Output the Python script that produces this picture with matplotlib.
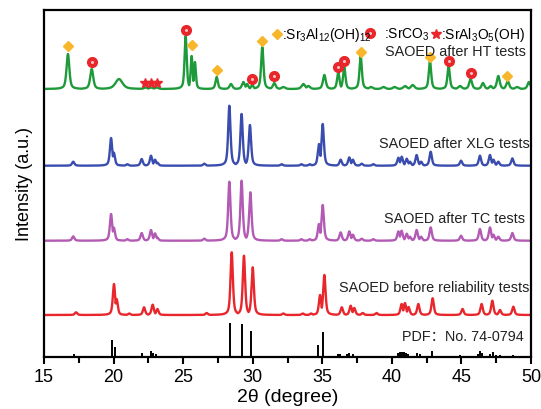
import numpy as np
import matplotlib
matplotlib.use("Agg")
import matplotlib.pyplot as plt
from matplotlib.ticker import MultipleLocator

plt.rcParams['font.family'] = ['Liberation Sans', 'Noto Sans CJK SC', 'DejaVu Sans']
plt.rcParams['mathtext.fontset'] = 'custom'
plt.rcParams['mathtext.rm'] = 'Liberation Sans'
plt.rcParams['mathtext.it'] = 'Liberation Sans'

# ---------------- data (peak tables) ----------------
# SAOED after HT tests (green)
ht_pos = [16.72, 18.43, 20.39, 22.3, 22.7, 23.1, 25.18, 25.61, 25.85, 27.41, 28.44, 29.33,
          29.6, 29.97, 30.69, 31.55, 32.2, 33.64, 34.0, 35.15, 36.15, 36.58, 37.76, 38.5,
          39.4, 40.2, 40.95, 41.5, 42.74, 44.08, 44.9, 45.66, 46.55, 47.1, 47.65, 48.33,
          49.0, 49.85]
ht_int = [35, 20, 10, 1.5, 1.5, 1.5, 53, 33, 27, 12, 5, 7,
          5, 4, 42, 6, 2, 5, 3, 14, 17, 22, 33, 2,
          2, 2, 3, 4, 28, 23, 3, 10, 6, 3, 13, 8,
          2, 7]
ht_wid = [0.12, 0.13, 0.3, 0.15, 0.15, 0.15, 0.09, 0.08, 0.08, 0.1, 0.12, 0.12,
          0.1, 0.1, 0.1, 0.12, 0.15, 0.15, 0.15, 0.12, 0.1, 0.1, 0.1, 0.15,
          0.15, 0.15, 0.15, 0.15, 0.1, 0.1, 0.15, 0.12, 0.12, 0.12, 0.12, 0.12,
          0.15, 0.12]

# SAOED after XLG tests (blue)
xlg_pos = [17.1, 19.82, 20.02, 20.99, 22.02, 22.69, 22.98, 23.15, 26.52, 28.32, 29.2, 29.8,
           32.08, 33.5, 34.1, 34.76, 35.03, 36.32, 36.94, 37.2, 37.83, 38.67, 40.47, 40.71,
           41.07, 41.3, 41.78, 42.1, 42.79, 44.97, 46.33, 47.05, 47.3, 47.65, 48.66]
xlg_int = [4, 27.7, 13, 1.5, 6.7, 10, 6, 3, 2, 60, 51.7, 40.7,
           1.5, 1.5, 1.5, 21.7, 41.7, 6, 8.3, 6, 2, 1.5, 8, 9,
           7, 4, 10.7, 4, 14, 5, 10, 10.7, 6, 4, 7.3]

# SAOED after TC tests (purple)
tc_pos = [17.1, 19.82, 20.02, 20.99, 22.02, 22.69, 22.98, 23.15, 26.52, 28.32, 29.2, 29.83,
          32.08, 33.5, 34.1, 34.76, 35.03, 36.32, 36.94, 37.2, 37.83, 38.67, 40.47, 40.7,
          41.07, 41.3, 41.78, 42.1, 42.79, 44.97, 46.33, 47.05, 47.3, 47.65, 48.66]
tc_int = [4.3, 26.7, 13, 1.5, 7.7, 10.7, 7.3, 3, 2, 59, 60, 48.4,
          1.5, 1.5, 1.5, 16.7, 35.7, 8.3, 9.3, 6, 2, 1.5, 9.3, 10,
          7, 4, 10.7, 4, 13.3, 5, 11.7, 13.3, 6, 4, 7.7]

# SAOED before reliability tests (red)
bef_pos = [17.3, 20.03, 20.22, 21.13, 22.19, 22.81, 23.15, 26.69, 28.49, 29.37, 30.0,
           32.2, 33.6, 34.2, 34.84, 35.15, 36.4, 37.04, 37.3, 37.9, 38.9, 40.7, 40.94,
           41.2, 41.9, 42.93, 45.08, 46.45, 47.22, 47.77, 48.73]
bef_int = [2.7, 31, 16, 1.5, 7.7, 10.3, 6, 2, 62.7, 59.3, 47.7,
           1.5, 1.5, 1.5, 20, 40, 7.7, 9.3, 7, 2, 2, 11, 12,
           8, 11, 16.7, 6, 11, 14.3, 5, 8.3]

# PDF No. 74-0794 reference sticks
pdf_pos = [17.18, 19.62, 19.91, 20.1, 21.06, 22.07, 22.69, 22.86, 23.05, 26.57, 28.37, 29.25,
           29.88, 34.72, 35.08, 36.15, 36.3, 36.75, 36.95, 37.2, 37.8, 38.2, 38.7, 39.2,
           39.7, 40.45, 40.6, 40.75, 40.9, 41.05, 41.16, 41.78, 42.0, 42.86, 44.9, 46.2,
           46.33, 46.5, 47.05, 47.27, 47.5, 47.8, 48.7, 48.8]
pdf_int = [2.7, 1.5, 17.3, 10, 1, 4.3, 6.3, 4, 3, 1.5, 34, 32.7,
           26, 12.5, 25, 3, 3, 3, 4, 3, 1, 1, 1, 1,
           1, 4, 5, 5, 5, 4, 3, 4, 3, 6.5, 2, 3,
           6, 4, 3, 5, 2, 2, 2, 1.5]

# phase markers on HT pattern (2theta, level)
dia_pos = [16.72, 25.61, 27.41, 30.69, 37.76, 42.74, 48.30]
dia_lvl = [311, 312, 287, 316, 305, 300, 281]
cir_pos = [18.43, 25.18, 29.97, 31.55, 36.15, 36.58, 44.08, 45.70]
cir_lvl = [295, 327, 278, 281, 290, 296, 296, 284]
star_pos = [22.26, 22.69, 23.12]
star_lvl = [274, 274, 274]

labels = ['SAOED after HT tests', 'SAOED after XLG tests', 'SAOED after TC tests',
          'SAOED before reliability tests', 'PDF\uff1aNo. 74-0794']

# ---------------- styling ----------------
offsets = [268, 191.3, 116.3, 42]
colors = ['#1F9A3A', '#3A4DAE', '#B25AB4', '#E8262B']
ORANGE = '#F8B62A'
RED = '#E8262B'

fig = plt.figure(figsize=(5.41, 4.10), dpi=100)
ax = fig.add_axes([44 / 541, 52 / 410, 487 / 541, 347 / 410])

x = np.linspace(15, 50, 7001)


def profile(pos, inten, wid):
    y = np.zeros_like(x)
    for p, h, w in zip(pos, inten, wid):
        d = (x - p) / w
        pk = h * (0.6 / (1 + d ** 2) + 0.4 * np.exp(-np.log(2) * d ** 2))
        y = np.maximum(y, pk)
    return y


series = [(ht_pos, ht_int, ht_wid),
          (xlg_pos, xlg_int, [0.1] * len(xlg_pos)),
          (tc_pos, tc_int, [0.1] * len(tc_pos)),
          (bef_pos, bef_int, [0.1] * len(bef_pos))]

for (pos, inten, wid), off, c in zip(series, offsets, colors):
    ax.plot(x, off + profile(pos, inten, wid), color=c, lw=1.7, solid_joinstyle='round')

ax.vlines(pdf_pos, 0, pdf_int, color='black', lw=1.4)

# markers
ax.plot(dia_pos, dia_lvl, linestyle='none', marker='D', ms=5.5, color=ORANGE, mec=ORANGE)
ax.plot(cir_pos, cir_lvl, linestyle='none', marker='o', ms=7, color=RED, mec=RED)
ax.plot(cir_pos, cir_lvl, linestyle='none', marker='o', ms=2.2, color='#F6C3C3', mec='none')
ax.plot(star_pos, star_lvl, linestyle='none', marker='*', ms=7, color=RED, mec=RED)

# legend-like annotations
ax.plot([31.75], [323], linestyle='none', marker='D', ms=5.5, color=ORANGE, mec=ORANGE)
ax.text(32.1, 323, r':Sr$_3$Al$_{12}$(OH)$_{12}$', fontsize=10, va='center', ha='left')
ax.plot([38.45], [324], linestyle='none', marker='o', ms=7, color=RED, mec=RED)
ax.plot([38.45], [324], linestyle='none', marker='o', ms=2.2, color='#F6C3C3', mec='none')
ax.text(39.4, 323, r':SrCO$_3$', fontsize=10, va='center', ha='left')
ax.plot([43.2], [323], linestyle='none', marker='*', ms=7, color=RED, mec=RED)
ax.text(43.55, 323, r':SrAl$_3$O$_5$(OH)', fontsize=10, va='center', ha='left')

lab_x = [49.65, 49.9, 49.6, 49.9, 49.5]
lab_y = [306, 214, 139, 70, 21]
for t, lx, ly in zip(labels, lab_x, lab_y):
    ax.text(lx, ly, t, fontsize=10.4, ha='right', va='center', color='#222222')

ax.set_xlim(15, 50)
ax.set_ylim(0, 347)
ax.set_yticks([])
ax.xaxis.set_major_locator(MultipleLocator(5))
ax.xaxis.set_minor_locator(MultipleLocator(2.5))
ax.tick_params(axis='x', which='major', direction='out', length=5, width=1.5, labelsize=13, pad=3)
ax.tick_params(axis='x', which='minor', direction='out', length=4, width=1.5)
for s in ax.spines.values():
    s.set_linewidth(1.6)

ax.set_xlabel('2\u03b8 (degree)', fontsize=14, labelpad=2)
ax.set_ylabel('Intensity (a.u.)', fontsize=13, labelpad=8)

fig.savefig('out.png', dpi=100)
